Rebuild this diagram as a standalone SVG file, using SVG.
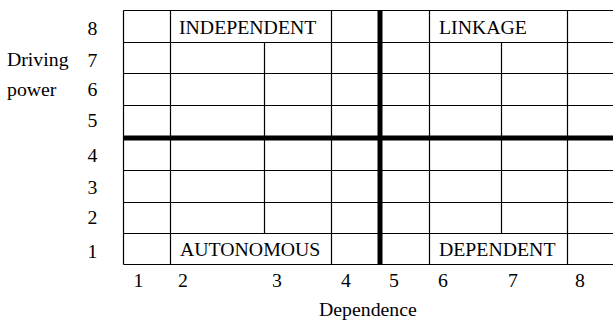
<svg xmlns="http://www.w3.org/2000/svg" width="613" height="320" viewBox="0 0 613 320">
<style>
text{font-family:"Liberation Serif","Times New Roman",serif;font-size:19.8px;fill:#000}
.num{text-anchor:middle}
.thin{stroke:#000;stroke-width:1.2;fill:none}
.thick{stroke:#000;stroke-width:5;fill:none}
</style>
<rect width="613" height="320" fill="#fff"/>
<g id="grid">
<path class="thin" d="M123.5 10.5H613M123.5 42.5H613M123.5 73.5H613M123.5 105.5H613M123.5 170.5H613M123.5 202.5H613M123.5 233.5H613M123.5 264.5H613"/>
<path class="thin" d="M123.5 10.5V264.5M170.5 10.5V264.5M264.5 42.5V233.5M331.5 10.5V264.5M429.5 10.5V264.5M501.5 42.5V233.5M567.5 10.5V264.5"/>
<path class="thick" d="M123 138H613M380 10.5V264.5"/>
</g>
<g id="independent"><text x="179" y="33.5">INDEPENDENT</text></g>
<g id="linkage"><text x="439" y="33.5">LINKAGE</text></g>
<g id="autonomous"><text x="180" y="256">AUTONOMOUS</text></g>
<g id="dependent"><text x="439" y="256">DEPENDENT</text></g>
<g id="y-axis">
<text x="7" y="66">Driving</text>
<text x="7" y="95.5">power</text>
<text class="num" x="92.5" y="35">8</text>
<text class="num" x="92.5" y="66.5">7</text>
<text class="num" x="92.5" y="95.5">6</text>
<text class="num" x="92.5" y="127">5</text>
<text class="num" x="92.5" y="162">4</text>
<text class="num" x="92.5" y="193.5">3</text>
<text class="num" x="92.5" y="224">2</text>
<text class="num" x="92.5" y="258">1</text>
</g>
<g id="x-axis">
<text class="num" x="138.5" y="286.5">1</text>
<text class="num" x="183" y="286.5">2</text>
<text class="num" x="277" y="286.5">3</text>
<text class="num" x="346" y="286.5">4</text>
<text class="num" x="394" y="286.5">5</text>
<text class="num" x="443" y="286.5">6</text>
<text class="num" x="513" y="286.5">7</text>
<text class="num" x="580" y="286.5">8</text>
<text x="319" y="315.5">Dependence</text>
</g>
</svg>
